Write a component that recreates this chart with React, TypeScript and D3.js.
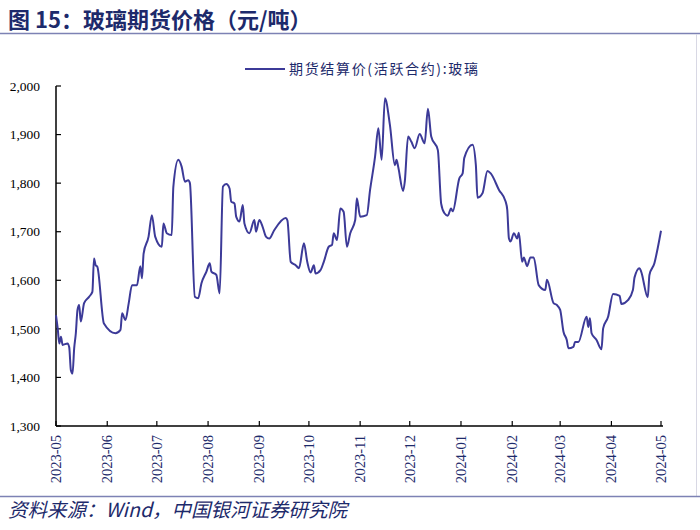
import * as d3 from "d3";

const W = 700;
const H = 530;

// axis box
const marginLeft = 56;
const plotRight = 661;
const plotTop = 86;
const plotBottom = 426;

const navy = "#1d2a6b";
const lineColor = "#3c3a98";

const title = "图 15：玻璃期货价格（元/吨）";
const source = "资料来源：Wind，中国银河证券研究院";
const seriesName = "期货结算价(活跃合约):玻璃";

const yTicks = [1300, 1400, 1500, 1600, 1700, 1800, 1900, 2000];

// settlement dates (active contract)
const dates = [
  "2023-05-01", "2023-05-02", "2023-05-03", "2023-05-04", "2023-05-05", "2023-05-08",
  "2023-05-09", "2023-05-10", "2023-05-11", "2023-05-12", "2023-05-13", "2023-05-14",
  "2023-05-15", "2023-05-16", "2023-05-18", "2023-05-21", "2023-05-23", "2023-05-24",
  "2023-05-25", "2023-05-26", "2023-05-30", "2023-06-06", "2023-06-09", "2023-06-10",
  "2023-06-12", "2023-06-14", "2023-06-16", "2023-06-19", "2023-06-21", "2023-06-22",
  "2023-06-23", "2023-06-26", "2023-06-28", "2023-06-30", "2023-07-04", "2023-07-05",
  "2023-07-07", "2023-07-10", "2023-07-11", "2023-07-14", "2023-07-16", "2023-07-18",
  "2023-07-20", "2023-07-21", "2023-07-24", "2023-07-26", "2023-07-28", "2023-07-31",
  "2023-08-02", "2023-08-03", "2023-08-06", "2023-08-08", "2023-08-10", "2023-08-12",
  "2023-08-14", "2023-08-15", "2023-08-17", "2023-08-18", "2023-08-20", "2023-08-22",
  "2023-08-23", "2023-08-26", "2023-08-29", "2023-08-30", "2023-09-01", "2023-09-03",
  "2023-09-05", "2023-09-07", "2023-09-10", "2023-09-17", "2023-09-18", "2023-09-20",
  "2023-09-23", "2023-09-25", "2023-09-28", "2023-09-30", "2023-10-02", "2023-10-04",
  "2023-10-05", "2023-10-08", "2023-10-10", "2023-10-13", "2023-10-15", "2023-10-16",
  "2023-10-18", "2023-10-20", "2023-10-22", "2023-10-24", "2023-10-26", "2023-10-29",
  "2023-10-30", "2023-11-01", "2023-11-05", "2023-11-07", "2023-11-10", "2023-11-12",
  "2023-11-14", "2023-11-16", "2023-11-19", "2023-11-22", "2023-11-23", "2023-11-24",
  "2023-11-27", "2023-11-28", "2023-11-30", "2023-12-02", "2023-12-04", "2023-12-07",
  "2023-12-10", "2023-12-12", "2023-12-14", "2023-12-18", "2023-12-20", "2023-12-22",
  "2023-12-24", "2023-12-26", "2023-12-27", "2023-12-31", "2024-01-02", "2024-01-03",
  "2024-01-08", "2024-01-10", "2024-01-11", "2024-01-14", "2024-01-17", "2024-01-19",
  "2024-01-24", "2024-01-28", "2024-01-29", "2024-01-30", "2024-01-31", "2024-02-02",
  "2024-02-04", "2024-02-05", "2024-02-07", "2024-02-08", "2024-02-10", "2024-02-12",
  "2024-02-14", "2024-02-17", "2024-02-21", "2024-02-22", "2024-02-26", "2024-02-28",
  "2024-03-01", "2024-03-03", "2024-03-05", "2024-03-06", "2024-03-09", "2024-03-10",
  "2024-03-12", "2024-03-17", "2024-03-18", "2024-03-19", "2024-03-20", "2024-03-23",
  "2024-03-26", "2024-03-27", "2024-03-30", "2024-04-02", "2024-04-06", "2024-04-07",
  "2024-04-11", "2024-04-14", "2024-04-15", "2024-04-18", "2024-04-19", "2024-04-23",
  "2024-04-24", "2024-04-27", "2024-04-29", "2024-05-01",
];

// 元/吨
const prices = [
  1528, 1502, 1470, 1484, 1467, 1470,
  1462, 1415, 1408, 1460, 1491, 1539,
  1549, 1515, 1553, 1566, 1576, 1645,
  1631, 1628, 1511, 1491, 1498, 1532,
  1518, 1553, 1590, 1590, 1629, 1604,
  1655, 1690, 1734, 1690, 1669, 1717,
  1697, 1693, 1793, 1848, 1834, 1803,
  1806, 1800, 1566, 1563, 1594, 1618,
  1635, 1618, 1611, 1573, 1793, 1798,
  1789, 1762, 1758, 1731, 1721, 1755,
  1717, 1697, 1724, 1700, 1724, 1710,
  1690, 1686, 1703, 1728, 1723, 1638,
  1631, 1625, 1676, 1638, 1616, 1631,
  1614, 1621, 1638, 1669, 1673, 1697,
  1683, 1748, 1741, 1669, 1697, 1724,
  1769, 1731, 1734, 1786, 1854, 1913,
  1848, 1975, 1920, 1837, 1848, 1834,
  1784, 1803, 1896, 1885, 1872, 1901,
  1882, 1953, 1896, 1868, 1758, 1738,
  1733, 1748, 1742, 1810, 1820, 1852,
  1879, 1837, 1770, 1779, 1825, 1820,
  1786, 1762, 1745, 1686, 1680, 1697,
  1686, 1698, 1638, 1647, 1629, 1647,
  1647, 1590, 1580, 1601, 1553, 1549,
  1539, 1494, 1477, 1460, 1463, 1473,
  1473, 1525, 1504, 1522, 1491, 1477,
  1458, 1501, 1525, 1572, 1568, 1551,
  1559, 1580, 1606, 1625, 1618, 1565,
  1611, 1635, 1666, 1702,
];

const parseDate = d3.timeParse("%Y-%m-%d");

export default function App() {
  const points = dates.map((d, i) => ({ date: parseDate(d) as Date, value: prices[i] }));

  const xScale = d3
    .scaleTime()
    .domain([new Date(2023, 4, 1), new Date(2024, 4, 1)])
    .range([marginLeft, plotRight]);

  const yScale = d3.scaleLinear().domain([1300, 2000]).range([plotBottom, plotTop]);

  const xTicks = d3.timeMonth.range(new Date(2023, 4, 1), new Date(2024, 4, 2));
  const fmtMonth = d3.timeFormat("%Y-%m");
  const fmtNum = d3.format(",");

  const line = d3
    .line<{ date: Date; value: number }>()
    .x((d) => xScale(d.date))
    .y((d) => yScale(d.value))
    .curve(d3.curveMonotoneX);

  return (
    <svg
      width={W}
      height={H}
      viewBox={`0 0 ${W} ${H}`}
      style={{ position: "absolute", left: 0, top: 0, background: "#fff" }}
    >
      {/* title */}
      <text
        x={8}
        y={28}
        fill={navy}
        fontFamily="'Noto Sans CJK SC', sans-serif"
        fontWeight="bold"
        fontSize={22}
      >
        {title}
      </text>
      <line x1={0} x2={W} y1={33.5} y2={33.5} stroke="#7d82b4" strokeWidth={1.5} />
      <line x1={696.5} x2={696.5} y1={34} y2={496} stroke="#d8d8e4" strokeWidth={1} />

      {/* legend */}
      <line x1={245} x2={285} y1={69} y2={69} stroke={lineColor} strokeWidth={2} />
      <text
        x={289}
        y={74}
        fill={navy}
        fontFamily="'Noto Sans CJK SC', sans-serif"
        fontSize={14}
        textLength={189}
      >
        {seriesName}
      </text>

      {/* y axis */}
      <g>
        <line x1={marginLeft} x2={marginLeft} y1={plotTop} y2={plotBottom} stroke="#000" strokeWidth={1.5} />
        {yTicks.map((t) => (
          <g key={t} transform={`translate(0,${yScale(t)})`}>
            <line x1={marginLeft} x2={marginLeft + 5} stroke="#000" strokeWidth={1.2} />
            <text
              x={40}
              dy="0.35em"
              textAnchor="end"
              fontFamily="'Liberation Serif', serif"
              fontSize={13.5}
              fill="#000"
            >
              {fmtNum(t)}
            </text>
          </g>
        ))}
      </g>

      {/* x axis */}
      <g>
        <line x1={marginLeft} x2={plotRight + 2} y1={plotBottom} y2={plotBottom} stroke="#000" strokeWidth={1.5} />
        {xTicks.map((t) => (
          <g key={t.getTime()} transform={`translate(${xScale(t)},${plotBottom})`}>
            <line y1={0} y2={-5} stroke="#000" strokeWidth={1.2} />
            <text
              transform="rotate(-90)"
              x={-9}
              dy="0.35em"
              textAnchor="end"
              fontFamily="'Liberation Serif', serif"
              fontSize={14.5}
              fill={navy}
            >
              {fmtMonth(t)}
            </text>
          </g>
        ))}
      </g>

      {/* series */}
      <path d={line(points) ?? ""} fill="none" stroke={lineColor} strokeWidth={2} strokeLinejoin="round" />

      {/* source */}
      <line x1={0} x2={W} y1={496.5} y2={496.5} stroke="#7d82b4" strokeWidth={1.5} />
      <text
        x={8}
        y={517}
        fill={navy}
        fontFamily="'Noto Sans CJK SC', serif"
        fontStyle="italic"
        fontSize={19.5}
      >
        {source}
      </text>
    </svg>
  );
}
